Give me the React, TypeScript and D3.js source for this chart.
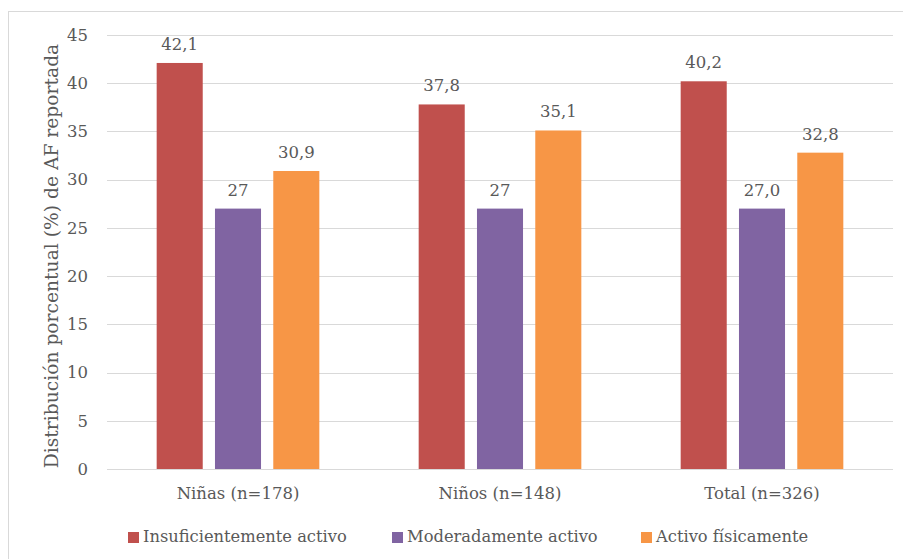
import React, { useEffect, useRef } from "react";
import * as d3 from "d3";

const categories = ["Niñas (n=178)", "Niños (n=148)", "Total (n=326)"];
const seriesNames = ["Insuficientemente activo", "Moderadamente activo", "Activo físicamente"];
const insuficiente = [42.1, 37.8, 40.2];
const moderado = [27, 27, 27.0];
const activo = [30.9, 35.1, 32.8];
const labelTexts = [
  ["42,1", "37,8", "40,2"],
  ["27", "27", "27,0"],
  ["30,9", "35,1", "32,8"],
];
const colors = ["#C0504D", "#8064A2", "#F79646"];
const yTicks = [0, 5, 10, 15, 20, 25, 30, 35, 40, 45];

const W = 903;
const H = 559;
const FONT = "'DejaVu Serif', serif";
const TEXT = "#595959";

export default function App() {
  const ref = useRef<SVGSVGElement>(null);
  useEffect(() => {
    const svg = d3.select(ref.current);
    svg.selectAll("*").remove();
    const left = 107, right = 893, top = 35, bottom = 469;
    const y = d3.scaleLinear().domain([0, 45]).range([bottom, top]);
    const x0 = d3.scaleBand().domain(categories).range([left, right]).paddingInner(0).paddingOuter(0);
    const x1 = d3.scaleBand<number>().domain([0, 1, 2]).range([0, x0.bandwidth()]).paddingInner(0.21).paddingOuter(0.852);
    const series = [insuficiente, moderado, activo];

    // border
    svg.append("rect").attr("x", 8.5).attr("y", 11.5).attr("width", W).attr("height", H)
      .attr("fill", "#fff").attr("stroke", "#d9d9d9").attr("stroke-width", 1);

    // gridlines
    svg.append("g").selectAll("line").data(yTicks).join("line")
      .attr("x1", left).attr("x2", right)
      .attr("y1", (d) => Math.round(y(d)) + 0.5).attr("y2", (d) => Math.round(y(d)) + 0.5)
      .attr("stroke", "#d9d9d9").attr("stroke-width", 1);

    // y tick labels
    svg.append("g").selectAll("text").data(yTicks).join("text")
      .attr("x", 88).attr("y", (d) => y(d)).attr("dy", "0.35em")
      .attr("text-anchor", "end").attr("font-family", FONT).attr("font-size", 16.5).attr("fill", TEXT)
      .text((d) => String(d));

    // bars
    series.forEach((vals, si) => {
      const g = svg.append("g");
      g.selectAll("rect").data(vals).join("rect")
        .attr("x", (_, i) => x0(categories[i])! + x1(si)!)
        .attr("y", (d) => y(d))
        .attr("width", x1.bandwidth())
        .attr("height", (d) => y(0) - y(d))
        .attr("fill", colors[si]);
      g.selectAll("text").data(vals).join("text")
        .attr("x", (_, i) => x0(categories[i])! + x1(si)! + x1.bandwidth() / 2)
        .attr("y", (d) => y(d) - 13)
        .attr("text-anchor", "middle").attr("font-family", FONT).attr("font-size", 16.5).attr("fill", TEXT)
        .text((_, i) => labelTexts[si][i]);
    });

    // category labels
    svg.append("g").selectAll("text").data(categories).join("text")
      .attr("x", (d) => x0(d)! + x0.bandwidth() / 2).attr("y", 499)
      .attr("text-anchor", "middle").attr("font-family", FONT).attr("font-size", 16.5).attr("fill", TEXT)
      .text((d) => d);

    // y title
    svg.append("text")
      .attr("transform", `translate(58, 256) rotate(-90)`)
      .attr("text-anchor", "middle").attr("font-family", FONT).attr("font-size", 18.7).attr("fill", TEXT)
      .text("Distribución porcentual (%) de AF reportada");

    // legend
    const legendX = [128, 392, 641];
    seriesNames.forEach((name, i) => {
      svg.append("rect").attr("x", legendX[i]).attr("y", 532).attr("width", 11).attr("height", 11).attr("fill", colors[i]);
      svg.append("text").attr("x", legendX[i] + 15).attr("y", 542)
        .attr("font-family", FONT).attr("font-size", 16.3).attr("fill", TEXT).text(name);
    });
  }, []);
  return (
    <svg ref={ref} width={W} height={H} style={{ position: "absolute", left: 0, top: 0, display: "block" }} />
  );
}
